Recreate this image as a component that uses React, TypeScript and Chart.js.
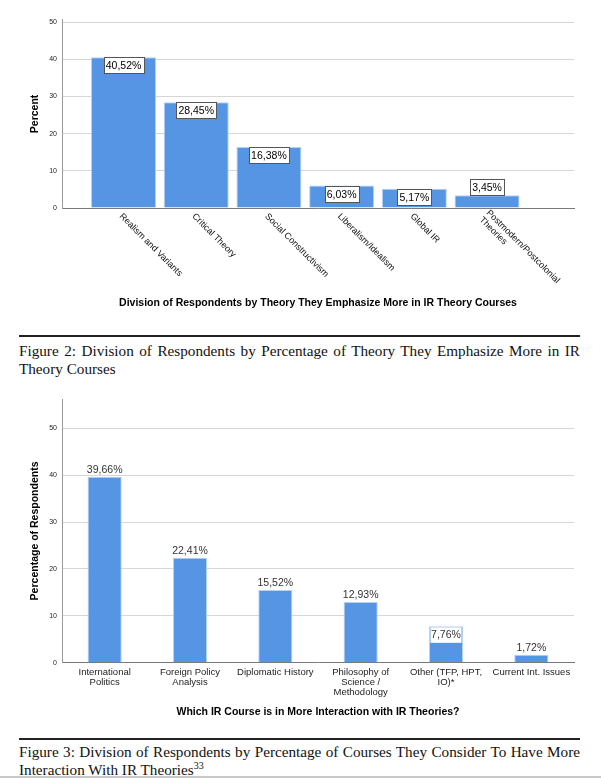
import React, { useEffect, useRef } from 'react';
import { Chart, registerables } from 'chart.js';

Chart.register(...registerables);

// ---------- data ----------
const theoryLabels: string[][] = [
  ['Realism and Variants'],
  ['Critical Theory'],
  ['Social Constructivism'],
  ['Liberalism/Idealism'],
  ['Global IR'],
  ['Postmodern/Postcolonial', 'Theories'],
];
const theoryValues: number[] = [40.52, 28.45, 16.38, 6.03, 5.17, 3.45];

const courseLabels: string[][] = [
  ['International', 'Politics'],
  ['Foreign Policy', 'Analysis'],
  ['Diplomatic History'],
  ['Philosophy of', 'Science /', 'Methodology'],
  ['Other (TFP, HPT,', 'IO)*'],
  ['Current Int. Issues'],
];
const courseValues: number[] = [39.66, 22.41, 15.52, 12.93, 7.76, 1.72];
const courseLabelPlacement: string[] = ['above', 'above', 'above', 'above', 'inside', 'above'];

const yTickValues: number[] = [0, 10, 20, 30, 40, 50];

const title1X = 'Division of Respondents by Theory They Emphasize More in IR Theory Courses';
const title1Y = 'Percent';
const title2X = 'Which IR Course is in More Interaction with IR Theories?';
const title2Y = 'Percentage of Respondents';

const caption2 = 'Figure 2: Division of Respondents by Percentage of Theory They Emphasize More in IR Theory Courses';
const caption3 = 'Figure 3: Division of Respondents by Percentage of Courses They Consider To Have More Interaction With IR Theories';
const caption3Note = '33';

// ---------- style ----------
const FONT = '"Liberation Sans", Arial, sans-serif';
const BAR = '#5595e4';
const BAR_EDGE = '#b6d1f4';

const fmt = (v: number) => v.toFixed(2).replace('.', ',') + '%';

export default function App() {
  const c1 = useRef<HTMLCanvasElement | null>(null);
  const c2 = useRef<HTMLCanvasElement | null>(null);

  useEffect(() => {
    if (!c1.current || !c2.current) return;

    const plugin1 = {
      id: 'p1',
      afterDatasetsDraw(chart: any) {
        const ctx = chart.ctx;
        const meta = chart.getDatasetMeta(0);
        const base = chart.scales.y.getPixelForValue(0);
        ctx.save();
        ctx.font = `10.5px ${FONT}`;
        meta.data.forEach((bar: any, i: number) => {
          const txt = fmt(theoryValues[i]);
          const w = Math.round(ctx.measureText(txt).width + 4);
          const h = 16;
          const bx = Math.round(bar.x - w / 2);
          const by = Math.round(base - bar.y >= h ? bar.y : bar.y - h);
          ctx.fillStyle = '#ffffff';
          ctx.fillRect(bx, by, w, h);
          ctx.strokeStyle = '#555555';
          ctx.lineWidth = 1;
          ctx.strokeRect(bx + 0.5, by + 0.5, w, h);
          ctx.fillStyle = '#000000';
          ctx.textAlign = 'center';
          ctx.textBaseline = 'middle';
          ctx.fillText(txt, bar.x, by + h / 2 + 1);
        });
        ctx.restore();
      },
      afterDraw(chart: any) {
        const { ctx, chartArea } = chart;
        const x = chart.scales.x;
        ctx.save();
        ctx.font = `9px ${FONT}`;
        ctx.fillStyle = '#111111';
        ctx.textAlign = 'left';
        ctx.textBaseline = 'middle';
        theoryLabels.forEach((lines, i) => {
          const px = x.getPixelForValue(i);
          ctx.save();
          ctx.translate(px - 2.7, chartArea.bottom + 7);
          ctx.rotate(Math.PI / 4);
          lines.forEach((ln, k) => ctx.fillText(ln, 0, (k - (lines.length - 1) / 2) * 10));
          ctx.restore();
        });
        ctx.font = `bold 10.5px ${FONT}`;
        ctx.fillStyle = '#000000';
        ctx.textAlign = 'center';
        ctx.fillText(title1X, (chartArea.left + chartArea.right) / 2, 303);
        ctx.save();
        ctx.translate(35, (chartArea.top + chartArea.bottom) / 2);
        ctx.rotate(-Math.PI / 2);
        ctx.fillText(title1Y, 0, 0);
        ctx.restore();
        ctx.restore();
      },
    };

    const plugin2 = {
      id: 'p2',
      afterDatasetsDraw(chart: any) {
        const ctx = chart.ctx;
        const meta = chart.getDatasetMeta(0);
        ctx.save();
        ctx.font = `10.5px ${FONT}`;
        ctx.textAlign = 'center';
        ctx.textBaseline = 'middle';
        meta.data.forEach((bar: any, i: number) => {
          const txt = fmt(courseValues[i]);
          if (courseLabelPlacement[i] === 'inside') {
            const w = bar.width;
            ctx.fillStyle = '#ffffff';
            ctx.fillRect(bar.x - w / 2 + 1.5, bar.y + 1, w - 3, 15.5);
            ctx.fillStyle = '#333333';
            ctx.fillText(txt, bar.x, bar.y + 9);
          } else {
            ctx.fillStyle = '#333333';
            ctx.fillText(txt, bar.x, bar.y - 7);
          }
        });
        ctx.restore();
      },
      afterDraw(chart: any) {
        const { ctx, chartArea } = chart;
        const x = chart.scales.x;
        ctx.save();
        ctx.font = `9.5px ${FONT}`;
        ctx.fillStyle = '#222222';
        ctx.textAlign = 'center';
        ctx.textBaseline = 'middle';
        courseLabels.forEach((lines, i) => {
          const px = x.getPixelForValue(i);
          lines.forEach((ln, k) => ctx.fillText(ln, px, chartArea.bottom + 10 + k * 9.7));
        });
        ctx.font = `bold 10.5px ${FONT}`;
        ctx.fillStyle = '#000000';
        ctx.fillText(title2X, (chartArea.left + chartArea.right) / 2, 322);
        ctx.save();
        ctx.translate(35, (chartArea.top + chartArea.bottom) / 2);
        ctx.rotate(-Math.PI / 2);
        ctx.fillText(title2Y, 0, 0);
        ctx.restore();
        ctx.restore();
      },
    };

    const chart1 = new Chart(c1.current, {
      type: 'bar',
      data: {
        datasets: [
          {
            data: theoryValues.map((v, i) => ({ x: i, y: v })),
            backgroundColor: BAR,
            borderColor: BAR_EDGE,
            borderWidth: 1,
            barPercentage: 0.894,
            categoryPercentage: 1,
          } as any,
        ],
      },
      options: {
        animation: false,
        responsive: false,
        layout: { padding: { left: 0, right: 27, top: 19.8, bottom: 0 } },
        plugins: { legend: { display: false }, tooltip: { enabled: false } },
        scales: {
          x: {
            type: 'linear',
            min: -0.846,
            max: 6.196,
            offset: false,
            grid: { display: false },
            border: { display: true, color: '#7a7a7a', width: 1 },
            ticks: { display: false },
            afterBuildTicks: (s: any) => {
              s.ticks = theoryValues.map((_, i) => ({ value: i }));
            },
            afterFit: (s: any) => {
              s.height = 330 - 208;
            },
          },
          y: {
            min: 0,
            max: 50.6,
            grid: { color: '#d6d6d6', drawTicks: false },
            border: { color: '#9a9a9a' },
            ticks: { stepSize: 10, padding: 5, font: { family: FONT, size: 7 }, color: '#222222' },
            afterBuildTicks: (s: any) => {
              s.ticks = yTickValues.map((v) => ({ value: v }));
            },
            afterFit: (s: any) => {
              s.width = 62;
            },
          },
        } as any,
      },
      plugins: [plugin1],
    });

    const chart2 = new Chart(c2.current, {
      type: 'bar',
      data: {
        labels: courseLabels.map((l) => l.join(' ')),
        datasets: [
          {
            data: courseValues,
            backgroundColor: BAR,
            borderColor: BAR_EDGE,
            borderWidth: 1,
            barPercentage: 0.4,
            categoryPercentage: 1,
          } as any,
        ],
      },
      options: {
        animation: false,
        responsive: false,
        layout: { padding: { left: 0, right: 27, top: 7, bottom: 0 } },
        plugins: { legend: { display: false }, tooltip: { enabled: false } },
        scales: {
          x: {
            grid: { display: false },
            border: { display: true, color: '#7a7a7a', width: 1 },
            ticks: { display: false },
            afterFit: (s: any) => {
              s.height = 340 - 272.7;
            },
          },
          y: {
            min: 0,
            max: 56.2,
            grid: { color: '#d6d6d6', drawTicks: false },
            border: { color: '#9a9a9a' },
            ticks: { stepSize: 10, padding: 5, font: { family: FONT, size: 7 }, color: '#222222' },
            afterBuildTicks: (s: any) => {
              s.ticks = yTickValues.map((v) => ({ value: v }));
            },
            afterFit: (s: any) => {
              s.width = 62;
            },
          },
        } as any,
      },
      plugins: [plugin2],
    });

    return () => {
      chart1.destroy();
      chart2.destroy();
    };
  }, []);

  const captionStyle: React.CSSProperties = {
    position: 'absolute',
    left: 19,
    width: 561,
    fontFamily: '"Liberation Serif", "Times New Roman", serif',
    fontSize: '15.2px',
    lineHeight: '18px',
    textAlign: 'justify',
    color: '#111',
    margin: 0,
  };

  return (
    <div style={{ position: 'absolute', left: 0, top: 0, width: 601, height: 778, overflow: 'hidden', background: '#fff' }}>
      <canvas ref={c1} width={601} height={330} style={{ position: 'absolute', left: 0, top: 0, display: 'block' }} />
      <div style={{ position: 'absolute', left: 19, top: 335, width: 561, height: 2, background: '#222' }} />
      <div style={{ ...captionStyle, top: 341.9 }}>{caption2}</div>
      <canvas ref={c2} width={601} height={340} style={{ position: 'absolute', left: 0, top: 390, display: 'block' }} />
      <div style={{ position: 'absolute', left: 19, top: 737.5, width: 561, height: 2, background: '#222' }} />
      <div style={{ ...captionStyle, top: 742.9 }}>
        {caption3}
        <span style={{ fontSize: '10px', position: 'relative', top: '-6px' }}>{caption3Note}</span>
      </div>
      <div style={{ position: 'absolute', left: 0, top: 776, width: 601, height: 2, background: '#c8c8c8' }} />
    </div>
  );
}
